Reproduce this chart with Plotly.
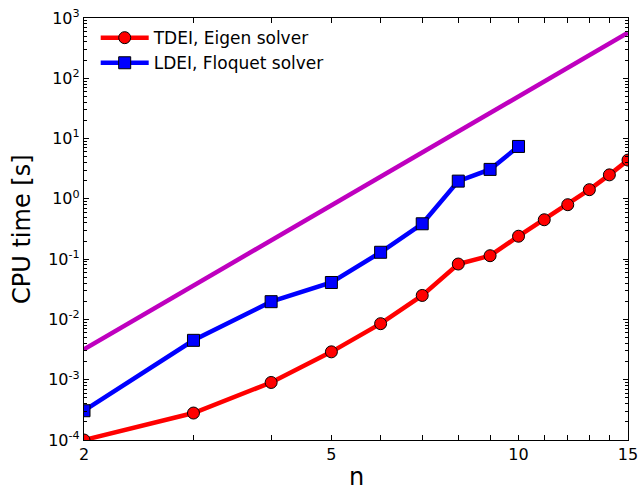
import plotly.graph_objects as go

n_tdei = [2, 3, 4, 5, 6, 7, 8, 9, 10, 11, 12, 13, 14, 15]
t_tdei = [1.0e-4, 2.8e-4, 9.0e-4, 2.9e-3, 8.5e-3, 0.025, 0.083, 0.114, 0.24, 0.45, 0.80, 1.42, 2.5, 4.4]

n_ldei = [2, 3, 4, 5, 6, 7, 8, 9, 10]
t_ldei = [3.06e-4, 4.5e-3, 0.0197, 0.041, 0.13, 0.386, 1.97, 3.08, 7.4]

n_ref = [2, 15]
t_ref = [3.2e-3, 570]

x_ticks = list(range(2, 16))
x_labels = ["2", "", "", "5", "", "", "", "", "10", "", "", "", "", "15"]

y_ticks = [1e-4, 1e-3, 1e-2, 1e-1, 1e0, 1e1, 1e2, 1e3]
y_labels = ["10<sup>-4</sup>", "10<sup>-3</sup>", "10<sup>-2</sup>", "10<sup>-1</sup>",
            "10<sup>0</sup>", "10<sup>1</sup>", "10<sup>2</sup>", "10<sup>3</sup>"]

font = "DejaVu Sans"

W, H = 638, 492
pl, pr, pt, pb = 84, 10, 18, 52
pw, ph = W - pl - pr, H - pt - pb

fig = go.Figure()
fig.add_trace(go.Scatter(x=n_ref, y=t_ref, mode="lines", line=dict(color="#bf00bf", width=4.5),
                         showlegend=False))
fig.add_trace(go.Scatter(x=n_tdei, y=t_tdei, mode="lines+markers", name="TDEI, Eigen solver",
                         line=dict(color="#ff0000", width=4.5),
                         marker=dict(symbol="circle", size=12, color="#ff0000", line=dict(color="black", width=1))))
fig.add_trace(go.Scatter(x=n_ldei, y=t_ldei, mode="lines+markers", name="LDEI, Floquet solver",
                         line=dict(color="#0000ff", width=4.5),
                         marker=dict(symbol="square", size=12, color="#0000ff", line=dict(color="black", width=1))))

fig.update_layout(
    width=W, height=H,
    margin=dict(l=pl, r=pr, t=pt, b=pb, autoexpand=False),
    paper_bgcolor="white", plot_bgcolor="white",
    font=dict(family=font, color="black", size=16),
    showlegend=True,
    legend=dict(x=0.0215, y=0.995, xanchor="left", yanchor="top", bgcolor="rgba(0,0,0,0)",
                font=dict(size=17), itemwidth=48, tracegroupgap=0),
    xaxis=dict(type="log", range=[0.30103, 1.17609], tickmode="array", tickvals=x_ticks, ticktext=x_labels,
               ticks="inside", ticklen=5, tickcolor="black", showline=True, linecolor="black", linewidth=1.3,
               mirror="allticks", showgrid=False, zeroline=False, automargin=False,
               ticklabeloverflow="allow", tickfont=dict(size=16)),
    yaxis=dict(type="log", range=[-4, 3], tickmode="array", tickvals=y_ticks, ticktext=y_labels,
               ticks="inside", ticklen=5, tickcolor="black", showline=True, linecolor="black", linewidth=1.3,
               mirror="allticks", showgrid=False, zeroline=False, automargin=False,
               ticklabeloverflow="allow",
               minor=dict(ticks="inside", ticklen=2.5, tickcolor="black", dtick="D1", showgrid=False),
               tickfont=dict(size=16)),
    annotations=[
        dict(text="CPU time [s]", x=(22 - pl) / pw, y=(H - pb - 229) / ph, xref="paper", yref="paper",
             showarrow=False, textangle=-90, font=dict(size=24), xanchor="center", yanchor="middle"),
        dict(text="n", x=(356 - pl) / pw, y=(H - pb - 477) / ph, xref="paper", yref="paper",
             showarrow=False, font=dict(size=24), xanchor="center", yanchor="middle"),
    ],
)

# remove the page's default body margin so the figure fills the window exactly
fig.write_html("out.html", config={"displayModeBar": False},
               post_script="document.body.style.margin='0';")
